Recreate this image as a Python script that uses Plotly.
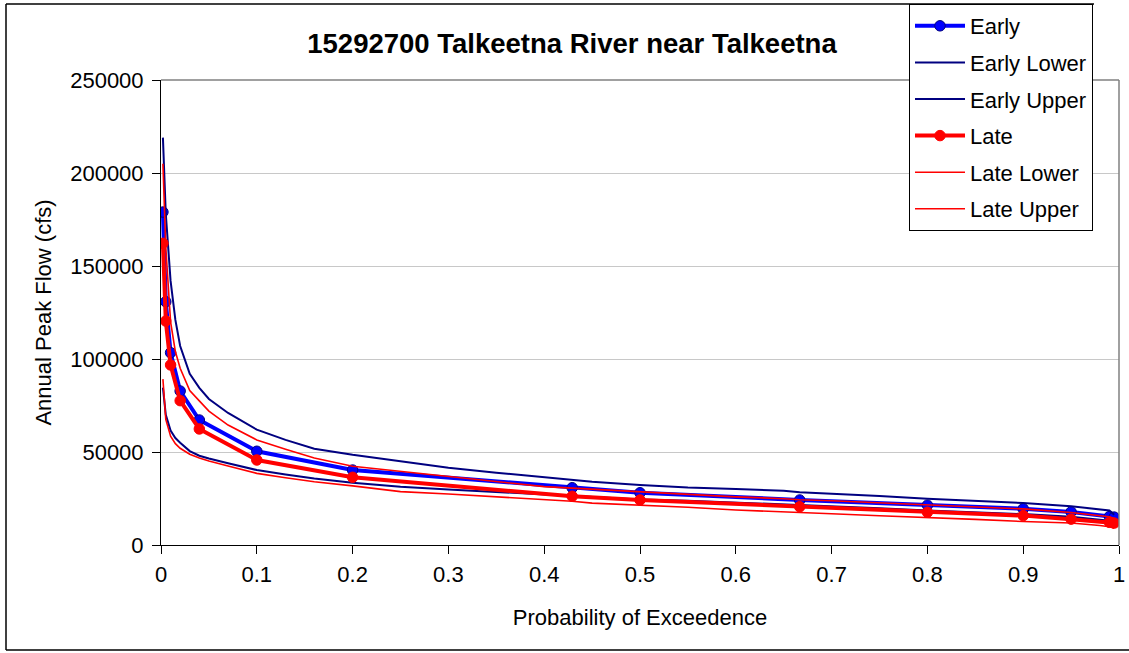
import plotly.graph_objects as go

# Marker probabilities (main frequency curves)
p_main = [0.002, 0.005, 0.01, 0.02, 0.04, 0.1, 0.2, 0.4292, 0.5, 0.6667, 0.8, 0.9, 0.95, 0.99, 0.995]
early = [179000, 130800, 103400, 82800, 67200, 50400, 40300, 30800, 28100, 24200, 21400, 19500, 17800, 15300, 15000]
late = [162200, 120400, 96800, 77600, 62400, 45700, 36400, 26200, 24200, 20600, 17600, 15800, 13900, 12200, 11800]

# Confidence limit probabilities
p_ci = [0.002, 0.005, 0.01, 0.015, 0.02, 0.03, 0.04, 0.05, 0.07, 0.1, 0.13, 0.16, 0.2, 0.25, 0.3,
        0.35, 0.4, 0.4292, 0.45, 0.5, 0.55, 0.6, 0.65, 0.6667, 0.7, 0.75, 0.8, 0.85, 0.9, 0.95,
        0.98, 0.99, 0.995]
early_upper = [219000, 178000, 142000, 121000, 107000, 92000, 84500, 78500, 71000, 62000, 56500, 51800,
               48500, 45200, 41500, 38900, 36300, 34800, 34000, 32300, 30900, 30100, 29200, 28300,
               27600, 26400, 24800, 23600, 22600, 20800, 19400, 18600, 16300]
early_lower = [84600, 70000, 61500, 57500, 55000, 50500, 48000, 46500, 44000, 40300, 37900, 35800,
               33500, 31300, 29900, 28500, 27000, 26200, 25700, 24400, 23800, 22900, 22000, 21400,
               20900, 19800, 18600, 17700, 16600, 15200, 13800, 13200, 12800]
late_upper = [205000, 160000, 120000, 104000, 95000, 83000, 77500, 72000, 64500, 56500, 51500, 46800,
              42300, 39500, 36900, 34000, 31400, 30600, 30000, 28400, 27200, 25900, 24900, 24300,
              23800, 22800, 21500, 20600, 19400, 17500, 15800, 15200, 14200]
late_lower = [89200, 67500, 58500, 54500, 52000, 48800, 46800, 45200, 42500, 38500, 36200, 34000,
              31800, 28700, 27400, 26000, 24500, 23500, 22500, 21500, 20300, 18800, 17600, 17300,
              16800, 15700, 14900, 13800, 12600, 11800, 10500, 9800, 9000]

x_ticks = [0, 0.1, 0.2, 0.3, 0.4, 0.5, 0.6, 0.7, 0.8, 0.9, 1]
x_ticklabels = ["0", "0.1", "0.2", "0.3", "0.4", "0.5", "0.6", "0.7", "0.8", "0.9", "1"]
y_ticks = [0, 50000, 100000, 150000, 200000, 250000]
y_ticklabels = ["0", "50000", "100000", "150000", "200000", "250000"]

FONT = "Liberation Sans, Arial, sans-serif"

fig = go.Figure()
fig.add_trace(go.Scatter(x=p_main, y=early, name="Early", mode="lines+markers",
                         line=dict(color="#0000FF", width=4),
                         marker=dict(color="#0000FF", size=10.5, line=dict(color="#000080", width=1)),
                         legendgroup="a"))
fig.add_trace(go.Scatter(x=p_ci, y=early_lower, name="Early Lower", mode="lines",
                         line=dict(color="#000080", width=2), legendgroup="b"))
fig.add_trace(go.Scatter(x=p_ci, y=early_upper, name="Early Upper", mode="lines",
                         line=dict(color="#000080", width=2), legendgroup="c"))
fig.add_trace(go.Scatter(x=p_main, y=late, name="Late", mode="lines+markers",
                         line=dict(color="#FF0000", width=4),
                         marker=dict(color="#FF0000", size=10.5, line=dict(color="#FF0000", width=1)),
                         legendgroup="d"))
fig.add_trace(go.Scatter(x=p_ci, y=late_lower, name="Late Lower", mode="lines",
                         line=dict(color="#FF0000", width=1.6), legendgroup="e"))
fig.add_trace(go.Scatter(x=p_ci, y=late_upper, name="Late Upper", mode="lines",
                         line=dict(color="#FF0000", width=1.6), legendgroup="f"))

L, R, T, B = 161, 10, 80, 108
W, H = 1129, 653
pw, ph = W - L - R, H - T - B

def px_x(px):
    return (px - L) / pw

def px_y(py):
    return (H - B - py) / ph

fig.update_layout(
    width=W, height=H,
    margin=dict(l=L, r=R, t=T, b=B, autoexpand=False),
    paper_bgcolor="white", plot_bgcolor="white",
    font=dict(family=FONT, size=22, color="black"),
    title=dict(text="<b>15292700 Talkeetna River near Talkeetna</b>",
               font=dict(family=FONT, size=27.5, color="black"),
               x=px_x(572), xref="paper", xanchor="center",
               y=1 - 43 / H, yref="container", yanchor="middle"),
    showlegend=True,
    legend=dict(x=px_x(909), y=px_y(4), xanchor="left", yanchor="top",
                bordercolor="black", borderwidth=1, bgcolor="white",
                font=dict(family=FONT, size=22, color="black"),
                traceorder="grouped", tracegroupgap=5, itemwidth=50),
    xaxis=dict(range=[0, 1], tickvals=x_ticks, ticktext=x_ticklabels,
               showgrid=False, zeroline=False, automargin=False,
               showline=True, linecolor="black", linewidth=1,
               ticks="outside", ticklen=8, tickcolor="black", ticklabelstandoff=2,
               title=dict(text="Probability of Exceedence", standoff=23,
                          font=dict(family=FONT, size=22))),
    yaxis=dict(range=[0, 250000], tickvals=y_ticks, ticktext=y_ticklabels,
               showgrid=True, gridcolor="#c8c8c8", gridwidth=1, zeroline=False, automargin=False,
               showline=True, linecolor="black", linewidth=1,
               ticks="outside", ticklen=8, tickcolor="black", ticklabelstandoff=4,
               title=dict(text="Annual Peak Flow (cfs)", standoff=12,
                          font=dict(family=FONT, size=22))),
)

# plot-area border (top and right, gray)
fig.add_shape(type="line", xref="paper", yref="paper", x0=0, x1=1, y0=1, y1=1,
              line=dict(color="#808080", width=1.5), layer="above")
fig.add_shape(type="line", xref="paper", yref="paper", x0=1, x1=1, y0=0, y1=1,
              line=dict(color="#808080", width=1.5), layer="above")
# chart-area border: left, top (ends at legend), bottom
fig.add_shape(type="line", xref="paper", yref="paper",
              x0=px_x(6), x1=px_x(6), y0=px_y(650), y1=px_y(4),
              line=dict(color="black", width=1.5), layer="below")
fig.add_shape(type="line", xref="paper", yref="paper",
              x0=px_x(6), x1=px_x(1094), y0=px_y(4), y1=px_y(4),
              line=dict(color="black", width=1.5), layer="below")
fig.add_shape(type="line", xref="paper", yref="paper",
              x0=px_x(6), x1=px_x(1135), y0=px_y(650), y1=px_y(650),
              line=dict(color="black", width=1.5), layer="below")

fig.write_html("out.html", config={"displayModeBar": False},
               post_script="document.body.style.margin='0px';")
